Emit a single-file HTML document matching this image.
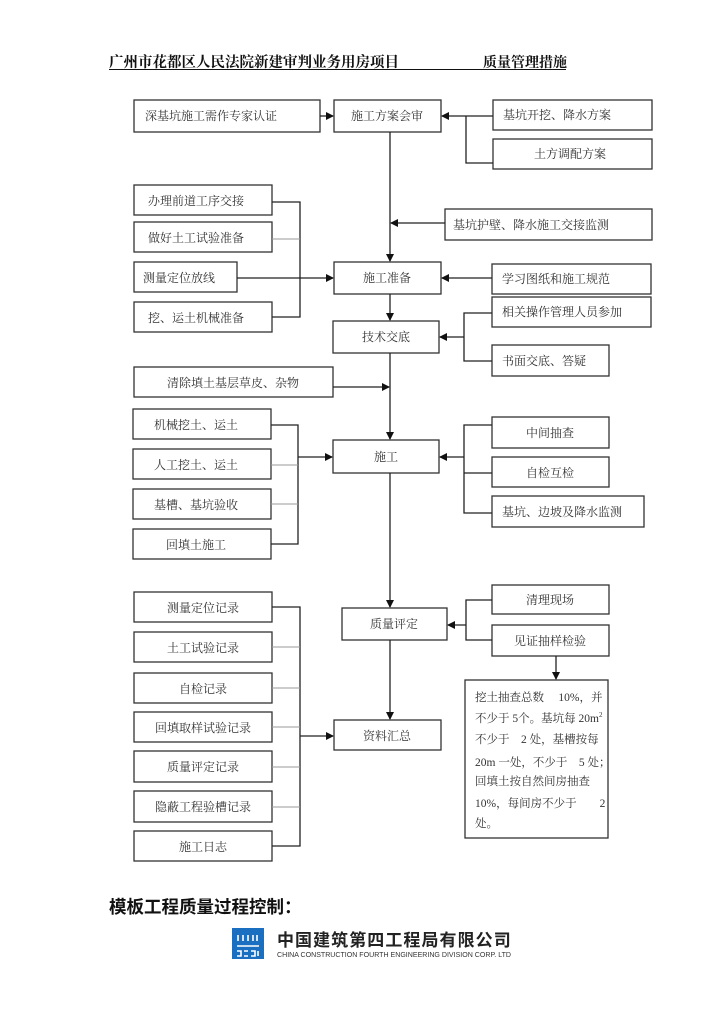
<!DOCTYPE html>
<html><head><meta charset="utf-8"><style>
html,body{margin:0;padding:0;background:#fff;}
svg{display:block;}
.t{font-family:"Liberation Serif","Noto Serif CJK SC",serif;font-size:12px;fill:#333;}
.b{fill:#fff;stroke:#333;stroke-width:1.3;}
.l{stroke:#222;stroke-width:1.3;fill:none;}
.g{stroke:#999;stroke-width:1;fill:none;}
</style></head><body>
<svg width="724" height="1024" viewBox="0 0 724 1024" xmlns="http://www.w3.org/2000/svg">
<defs><marker id="a" markerWidth="8" markerHeight="8" refX="7" refY="4" orient="auto" markerUnits="userSpaceOnUse"><path d="M0,0 L8,4 L0,8 z" fill="#111"/></marker></defs>
<text x="109" y="67" style="font-family:'Liberation Serif','Noto Serif CJK SC',serif;font-size:14.5px;font-weight:bold;fill:#111">广州市花都区人民法院新建审判业务用房项目</text>
<text x="483" y="67" style="font-family:'Liberation Serif','Noto Serif CJK SC',serif;font-size:14px;font-weight:bold;fill:#111">质量管理措施</text>
<line x1="109" y1="69.5" x2="566" y2="69.5" stroke="#111" stroke-width="1"/>

<rect class="b" x="134" y="100" width="186" height="32"/><text class="t" x="145" y="120">深基坑施工需作专家认证</text>
<rect class="b" x="334" y="100" width="107" height="32"/><text class="t" x="387" y="120" text-anchor="middle">施工方案会审</text>
<rect class="b" x="493" y="100" width="159" height="30"/><text class="t" x="503" y="119">基坑开挖、降水方案</text>
<rect class="b" x="493" y="139" width="159" height="30"/><text class="t" x="570" y="158" text-anchor="middle">土方调配方案</text>
<line class="l" x1="320" y1="116" x2="333" y2="116" marker-end="url(#a)"/>
<line class="l" x1="493" y1="116" x2="442" y2="116" marker-end="url(#a)"/>
<polyline class="l" points="466,116 466,163 493,163"/>
<line class="l" x1="390" y1="132" x2="390" y2="261" marker-end="url(#a)"/>
<rect class="b" x="445" y="209" width="207" height="31"/><text class="t" x="453" y="229">基坑护壁、降水施工交接监测</text>
<line class="l" x1="445" y1="223" x2="391" y2="223" marker-end="url(#a)"/>

<rect class="b" x="134" y="185" width="138" height="30"/><text class="t" x="196" y="205" text-anchor="middle">办理前道工序交接</text>
<rect class="b" x="134" y="222" width="138" height="30"/><text class="t" x="196" y="242" text-anchor="middle">做好土工试验准备</text>
<rect class="b" x="134" y="262" width="103" height="30"/><text class="t" x="143" y="282">测量定位放线</text>
<rect class="b" x="134" y="302" width="138" height="30"/><text class="t" x="196" y="322" text-anchor="middle">挖、运土机械准备</text>
<polyline class="l" points="272,202 300,202 300,317 272,317"/>
<line class="g" x1="272" y1="239" x2="300" y2="239"/>
<line class="l" x1="237" y1="278" x2="333" y2="278" marker-end="url(#a)"/>

<rect class="b" x="334" y="262" width="107" height="32"/><text class="t" x="387" y="282" text-anchor="middle">施工准备</text>
<rect class="b" x="492" y="264" width="159" height="30"/><text class="t" x="502" y="283">学习图纸和施工规范</text>
<line class="l" x1="492" y1="278" x2="442" y2="278" marker-end="url(#a)"/>
<line class="l" x1="390" y1="294" x2="390" y2="320" marker-end="url(#a)"/>

<rect class="b" x="333" y="321" width="106" height="32"/><text class="t" x="386" y="341" text-anchor="middle">技术交底</text>
<rect class="b" x="492" y="297" width="159" height="30"/><text class="t" x="502" y="316">相关操作管理人员参加</text>
<rect class="b" x="492" y="345" width="117" height="31"/><text class="t" x="502" y="365">书面交底、答疑</text>
<polyline class="l" points="492,313 464,313 464,361 492,361"/>
<line class="l" x1="464" y1="337" x2="440" y2="337" marker-end="url(#a)"/>

<line class="l" x1="390" y1="353" x2="390" y2="439" marker-end="url(#a)"/>
<rect class="b" x="134" y="367" width="199" height="30"/><text class="t" x="167" y="387">清除填土基层草皮、杂物</text>
<line class="l" x1="333" y1="387" x2="389" y2="387" marker-end="url(#a)"/>

<rect class="b" x="333" y="440" width="106" height="33"/><text class="t" x="386" y="461" text-anchor="middle">施工</text>
<rect class="b" x="133" y="409" width="138" height="30"/><text class="t" x="196" y="429" text-anchor="middle">机械挖土、运土</text>
<rect class="b" x="133" y="449" width="138" height="30"/><text class="t" x="196" y="469" text-anchor="middle">人工挖土、运土</text>
<rect class="b" x="133" y="489" width="138" height="30"/><text class="t" x="196" y="509" text-anchor="middle">基槽、基坑验收</text>
<rect class="b" x="133" y="529" width="138" height="30"/><text class="t" x="196" y="549" text-anchor="middle">回填土施工</text>
<polyline class="l" points="271,425 298,425 298,544 271,544"/>
<line class="g" x1="271" y1="465" x2="298" y2="465"/>
<line class="g" x1="271" y1="504" x2="298" y2="504"/>
<line class="l" x1="298" y1="457" x2="332" y2="457" marker-end="url(#a)"/>

<rect class="b" x="492" y="417" width="117" height="31"/><text class="t" x="550" y="437" text-anchor="middle">中间抽查</text>
<rect class="b" x="492" y="457" width="117" height="30"/><text class="t" x="550" y="477" text-anchor="middle">自检互检</text>
<rect class="b" x="492" y="496" width="152" height="31"/><text class="t" x="502" y="516">基坑、边坡及降水监测</text>
<polyline class="l" points="492,425 464,425 464,513 492,513"/>
<line class="l" x1="464" y1="473" x2="492" y2="473"/>
<line class="l" x1="464" y1="457" x2="440" y2="457" marker-end="url(#a)"/>

<line class="l" x1="390" y1="473" x2="390" y2="607" marker-end="url(#a)"/>

<rect class="b" x="342" y="608" width="105" height="32"/><text class="t" x="394" y="628" text-anchor="middle">质量评定</text>
<rect class="b" x="492" y="585" width="117" height="29"/><text class="t" x="550" y="604" text-anchor="middle">清理现场</text>
<rect class="b" x="492" y="625" width="117" height="31"/><text class="t" x="550" y="645" text-anchor="middle">见证抽样检验</text>
<polyline class="l" points="492,600 466,600 466,640 492,640"/>
<line class="l" x1="466" y1="625" x2="448" y2="625" marker-end="url(#a)"/>
<line class="l" x1="556" y1="656" x2="556" y2="679" marker-end="url(#a)"/>
<line class="l" x1="390" y1="640" x2="390" y2="719" marker-end="url(#a)"/>

<rect class="b" x="134" y="592" width="138" height="30"/><text class="t" x="203" y="612" text-anchor="middle">测量定位记录</text>
<rect class="b" x="134" y="632" width="138" height="30"/><text class="t" x="203" y="652" text-anchor="middle">土工试验记录</text>
<rect class="b" x="134" y="673" width="138" height="30"/><text class="t" x="203" y="693" text-anchor="middle">自检记录</text>
<rect class="b" x="134" y="712" width="138" height="30"/><text class="t" x="203" y="732" text-anchor="middle">回填取样试验记录</text>
<rect class="b" x="134" y="751" width="138" height="31"/><text class="t" x="203" y="771" text-anchor="middle">质量评定记录</text>
<rect class="b" x="134" y="791" width="138" height="31"/><text class="t" x="203" y="811" text-anchor="middle">隐蔽工程验槽记录</text>
<rect class="b" x="134" y="831" width="138" height="30"/><text class="t" x="203" y="851" text-anchor="middle">施工日志</text>
<polyline class="l" points="272,607 300,607 300,846 272,846"/>
<line class="g" x1="272" y1="647" x2="300" y2="647"/>
<line class="g" x1="272" y1="688" x2="300" y2="688"/>
<line class="g" x1="272" y1="727" x2="300" y2="727"/>
<line class="g" x1="272" y1="767" x2="300" y2="767"/>
<line class="g" x1="272" y1="807" x2="300" y2="807"/>
<line class="l" x1="300" y1="736" x2="333" y2="736" marker-end="url(#a)"/>
<rect class="b" x="334" y="720" width="107" height="30"/><text class="t" x="387" y="740" text-anchor="middle">资料汇总</text>

<rect class="b" x="465" y="680" width="143" height="158"/>
<g class="t" style="font-size:11.5px">
<text x="475" y="701">挖土抽查总数　 10%，并</text>
<text x="475" y="722">不少于 5个。基坑每 20m<tspan dy="-5" font-size="7">2</tspan></text>
<text x="475" y="743">不少于　2 处，基槽按每</text>
<text x="475" y="766">20m 一处，不少于　5 处；</text>
<text x="475" y="785">回填土按自然间房抽查</text>
<text x="475" y="807">10%，每间房不少于　　2</text>
<text x="475" y="827">处。</text>
</g>

<text x="109" y="913" style="font-family:'Liberation Sans','Noto Sans CJK SC',sans-serif;font-size:17.5px;font-weight:bold;fill:#111">模板工程质量过程控制：</text>

<rect x="232" y="928" width="32" height="31" fill="#1a6fc0"/>
<g stroke="#fff" stroke-width="1.6" fill="none">
<path d="M238,935 v6 M243,935 v6 M248,935 v6 M253,935 v6 M257,935 v6"/>
<path d="M237,946 h22 M237,951 h4 v5 h-4 M244,951 h4 M244,956 h4 M251,951 h4 v5 h-4 M258,951 v5"/>
</g>
<text x="277" y="946" textLength="235" lengthAdjust="spacing" style="font-family:'Liberation Sans','Noto Sans CJK SC',sans-serif;font-size:17px;font-weight:bold;fill:#222;letter-spacing:1.3px">中国建筑第四工程局有限公司</text>
<text x="277" y="957" textLength="234" lengthAdjust="spacingAndGlyphs" style="font-family:'Liberation Sans',sans-serif;font-size:7.5px;fill:#333">CHINA CONSTRUCTION FOURTH ENGINEERING DIVISION CORP. LTD</text>
</svg>
</body></html>
